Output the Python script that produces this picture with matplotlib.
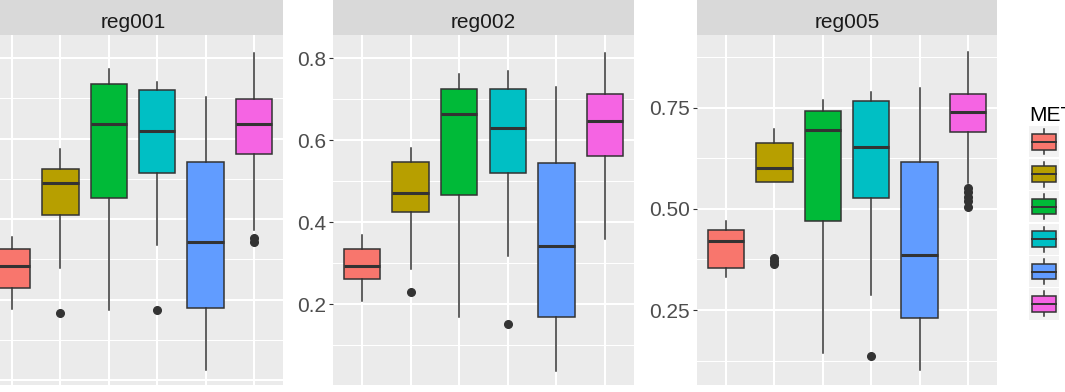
import matplotlib
matplotlib.use("Agg")
import matplotlib.pyplot as plt
from matplotlib.patches import Rectangle, Patch
from matplotlib.lines import Line2D
from matplotlib.legend_handler import HandlerBase
from matplotlib.ticker import MultipleLocator

plt.rcParams['font.family'] = ['Liberation Sans', 'DejaVu Sans']

regions = ['reg001', 'reg002', 'reg005']
methods = ['M1', 'M2', 'M3', 'M4', 'M5', 'M6']
colors = ['#F8766D', '#B79F00', '#00BA38', '#00BFC4', '#619CFF', '#F564E3']

# box statistics, one value per method
reg001_whislo = [0.176, 0.278, 0.174, 0.335, 0.025, 0.373]
reg001_q1 = [0.229, 0.410, 0.452, 0.514, 0.179, 0.561]
reg001_med = [0.283, 0.489, 0.636, 0.619, 0.343, 0.636]
reg001_q3 = [0.325, 0.524, 0.735, 0.720, 0.542, 0.698]
reg001_whishi = [0.355, 0.574, 0.773, 0.740, 0.703, 0.812]
reg001_fliers = [[], [0.166], [], [0.174], [], [0.352, 0.343]]

reg002_whislo = [0.207, 0.286, 0.168, 0.317, 0.036, 0.359]
reg002_q1 = [0.261, 0.425, 0.467, 0.521, 0.168, 0.562]
reg002_med = [0.293, 0.472, 0.665, 0.631, 0.342, 0.648]
reg002_q3 = [0.335, 0.548, 0.726, 0.726, 0.545, 0.712]
reg002_whishi = [0.369, 0.582, 0.761, 0.768, 0.729, 0.812]
reg002_fliers = [[], [0.229], [], [0.151], [], []]

reg005_whislo = [0.332, 0.566, 0.144, 0.287, 0.102, 0.564]
reg005_q1 = [0.354, 0.566, 0.470, 0.527, 0.230, 0.690]
reg005_med = [0.420, 0.601, 0.694, 0.652, 0.386, 0.739]
reg005_q3 = [0.448, 0.662, 0.741, 0.766, 0.615, 0.783]
reg005_whishi = [0.470, 0.697, 0.769, 0.788, 0.798, 0.887]
reg005_fliers = [[], [0.378, 0.372, 0.364], [], [0.136], [],
                 [0.551, 0.541, 0.530, 0.519, 0.504]]

panel_stats = [
    (reg001_whislo, reg001_q1, reg001_med, reg001_q3, reg001_whishi, reg001_fliers),
    (reg002_whislo, reg002_q1, reg002_med, reg002_q3, reg002_whishi, reg002_fliers),
    (reg005_whislo, reg005_q1, reg005_med, reg005_q3, reg005_whishi, reg005_fliers),
]
ylims = [(-0.012, 0.857), (0.003, 0.857), (0.065, 0.929)]
major_steps = [0.2, 0.2, 0.25]

W, H = 1065, 392
fig = plt.figure(figsize=(W / 100, H / 100), dpi=100)

# panel pixel extents (left, right); the first one runs off the left edge
panel_x = [(-17, 283), (333, 634), (697, 997)]
top, bottom = 35, 385
dark = '#333333'

for i, reg in enumerate(regions):
    x0, x1 = panel_x[i]
    ax = fig.add_axes([x0 / W, (H - bottom) / H, (x1 - x0) / W, (bottom - top) / H])
    ax.set_facecolor('#EBEBEB')
    for s in ax.spines.values():
        s.set_visible(False)

    lo, q1, med, q3, hi, fl = panel_stats[i]
    stats = []
    for k in range(len(methods)):
        stats.append(dict(whislo=lo[k], q1=q1[k], med=med[k], q3=q3[k],
                          whishi=hi[k], fliers=fl[k], label=methods[k]))
    bp = ax.bxp(stats, positions=range(1, len(methods) + 1), widths=0.75,
                patch_artist=True, showcaps=False, zorder=3,
                boxprops=dict(edgecolor=dark, linewidth=1.1),
                whiskerprops=dict(color=dark, linewidth=1.1),
                medianprops=dict(color=dark, linewidth=2.2),
                flierprops=dict(marker='o', markerfacecolor=dark,
                                markeredgecolor=dark, markersize=5.5))
    for patch, c in zip(bp['boxes'], colors):
        patch.set_facecolor(c)

    ax.set_xlim(0.4, len(methods) + 0.6)
    ax.set_ylim(*ylims[i])
    ax.yaxis.set_major_locator(MultipleLocator(major_steps[i]))
    ax.yaxis.set_minor_locator(MultipleLocator(major_steps[i] / 2))
    ax.yaxis.set_major_formatter(plt.FormatStrFormatter('%.2f' if major_steps[i] == 0.25 else '%.1f'))
    ax.grid(which='major', color='white', linewidth=1.5, zorder=0)
    ax.grid(which='minor', axis='y', color='white', linewidth=0.75, zorder=0)
    ax.set_axisbelow(True)
    ax.tick_params(axis='y', which='major', labelsize=15, labelcolor='#4D4D4D',
                   color=dark, length=2.75, width=0.8, pad=2.2,
                   labelleft=(i > 0))
    ax.tick_params(axis='y', which='minor', length=0)
    ax.tick_params(axis='x', labelbottom=False, length=0)

    sx = fig.add_axes([x0 / W, (H - top) / H, (x1 - x0) / W, top / H])
    sx.set_facecolor('#D9D9D9')
    sx.set_xticks([])
    sx.set_yticks([])
    for s in sx.spines.values():
        s.set_visible(False)
    sx.text(0.5, 0.19, reg, transform=sx.transAxes, ha='center', va='baseline',
            fontsize=15, color='#1A1A1A')


class BoxKey(HandlerBase):
    def create_artists(self, legend, orig, xd, yd, w, h, fs, trans):
        x0, y0 = -xd, -yd
        bg = Rectangle((x0, y0), w, h, facecolor='#F2F2F2', edgecolor='none',
                       transform=trans)
        wh = Line2D([x0 + w / 2] * 2, [y0 + 0.1 * h, y0 + 0.9 * h], color=dark,
                    linewidth=1.1, transform=trans)
        box = Rectangle((x0 + 0.1 * w, y0 + 0.25 * h), 0.8 * w, 0.5 * h,
                        facecolor=orig.get_facecolor(), edgecolor=dark,
                        linewidth=1.1, transform=trans)
        md = Line2D([x0 + 0.1 * w, x0 + 0.9 * w], [y0 + h / 2] * 2, color=dark,
                    linewidth=1.4, transform=trans)
        return [bg, wh, box, md]


handles = [Patch(facecolor=c) for c in colors]
leg = fig.legend(handles, methods, title='METHOD', loc='upper left',
                 bbox_to_anchor=(1029 / W, 1 - 106 / H), frameon=False,
                 fontsize=15, title_fontsize=15, borderpad=0, borderaxespad=0,
                 handlelength=1.44, handleheight=1.925, labelspacing=0.06,
                 handletextpad=0.5, alignment='left',
                 handler_map={Patch: BoxKey()})

fig.savefig('out.png', dpi=100)
